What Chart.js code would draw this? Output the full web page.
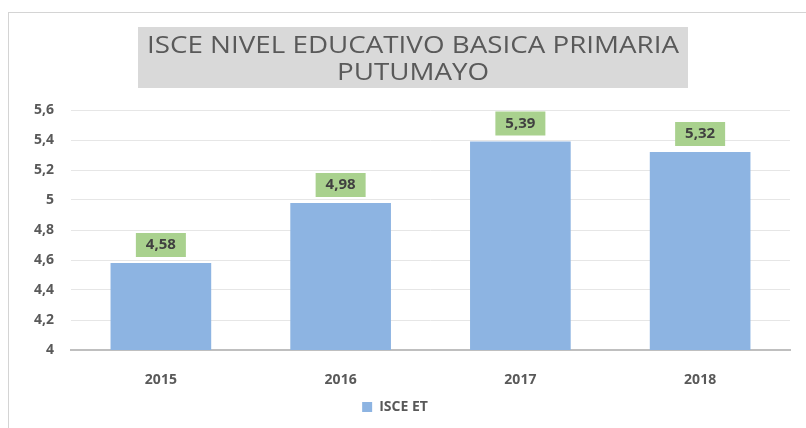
<!DOCTYPE html>
<html lang="es">
<head>
<meta charset="UTF-8">
<title>ISCE Putumayo</title>
<script src="https://cdn.jsdelivr.net/npm/chart.js"></script>
<style>
  html, body { margin: 0; padding: 0; background: #fff; }
  #wrap { width: 806px; height: 428px; position: relative; }
</style>
</head>
<body>
<div id="wrap"><canvas id="grafico" width="806" height="428"></canvas></div>
<script>
// datos del grafico
const anios = ["2015", "2016", "2017", "2018"];
const isce = [4.58, 4.98, 5.39, 5.32];
const tituloLineas = ["ISCE NIVEL EDUCATIVO BASICA PRIMARIA", "PUTUMAYO"];
const serieNombre = "ISCE ET";

const coma = v => String(+Number(v).toFixed(2)).replace(".", ",");

// marco, caja del titulo y etiquetas verdes
const decoracion = {
  id: "decoracion",
  beforeDraw(chart) {
    const ctx = chart.ctx;
    ctx.save();
    ctx.strokeStyle = "#d4d4d4";
    ctx.lineWidth = 1;
    ctx.strokeRect(8.5, 12.5, 900, 500);
    ctx.fillStyle = "#d9d9d9";
    ctx.fillRect(138, 27, 550, 61);
    ctx.fillStyle = "#595959";
    ctx.font = "23px 'Open Sans'";
    ctx.textAlign = "center";
    ctx.textBaseline = "middle";
    const ancho = ctx.measureText(tituloLineas[0]).width;
    const esc = 532 / ancho;
    tituloLineas.forEach((t, i) => {
      ctx.save();
      ctx.translate(413, 46 + i * 27);
      ctx.scale(esc, 1);
      ctx.fillText(t, 0, 0);
      ctx.restore();
    });
    ctx.restore();
  },
  afterDatasetsDraw(chart) {
    const ctx = chart.ctx;
    const meta = chart.getDatasetMeta(0);
    ctx.save();
    ctx.font = "bold 15px 'Open Sans'";
    ctx.textAlign = "center";
    ctx.textBaseline = "middle";
    meta.data.forEach((bar, i) => {
      const cx = bar.x, bottom = bar.y - 6;
      ctx.fillStyle = "#a9d18e";
      ctx.fillRect(cx - 25, bottom - 24, 50, 24);
      ctx.fillStyle = "#404040";
      ctx.fillText(coma(isce[i]), cx, bottom - 12);
    });
    ctx.restore();
  }
};

new Chart(document.getElementById("grafico"), {
  type: "bar",
  data: {
    labels: anios,
    datasets: [{
      label: serieNombre,
      data: isce,
      backgroundColor: "#8db4e2",
      barPercentage: 0.56,
      categoryPercentage: 1
    }]
  },
  options: {
    responsive: false,
    animation: false,
    layout: { padding: { top: 110, right: 16, bottom: 4, left: 0 } },
    plugins: {
      title: { display: false },
      tooltip: { enabled: false },
      legend: {
        position: "bottom",
        labels: {
          boxWidth: 10, boxHeight: 10, padding: 10,
          color: "#595959",
          font: { family: "'Open Sans'", size: 14, weight: "bold" }
        }
      }
    },
    scales: {
      x: {
        grid: { display: false },
        border: { color: "#bfbfbf", width: 2 },
        ticks: { color: "#595959", padding: 14, font: { family: "'Open Sans'", size: 14, weight: "bold" } },
        afterFit: s => { s.height = 40; }
      },
      y: {
        min: 4, max: 5.6,
        grid: { color: "#e6e6e6", drawTicks: false },
        border: { display: false },
        ticks: {
          stepSize: 0.2, padding: 17, color: "#595959",
          font: { family: "'Open Sans'", size: 14, weight: "bold" },
          callback: v => coma(v)
        },
        afterFit: s => { s.width = 71; }
      }
    }
  },
  plugins: [decoracion]
});
</script>
</body>
</html>
